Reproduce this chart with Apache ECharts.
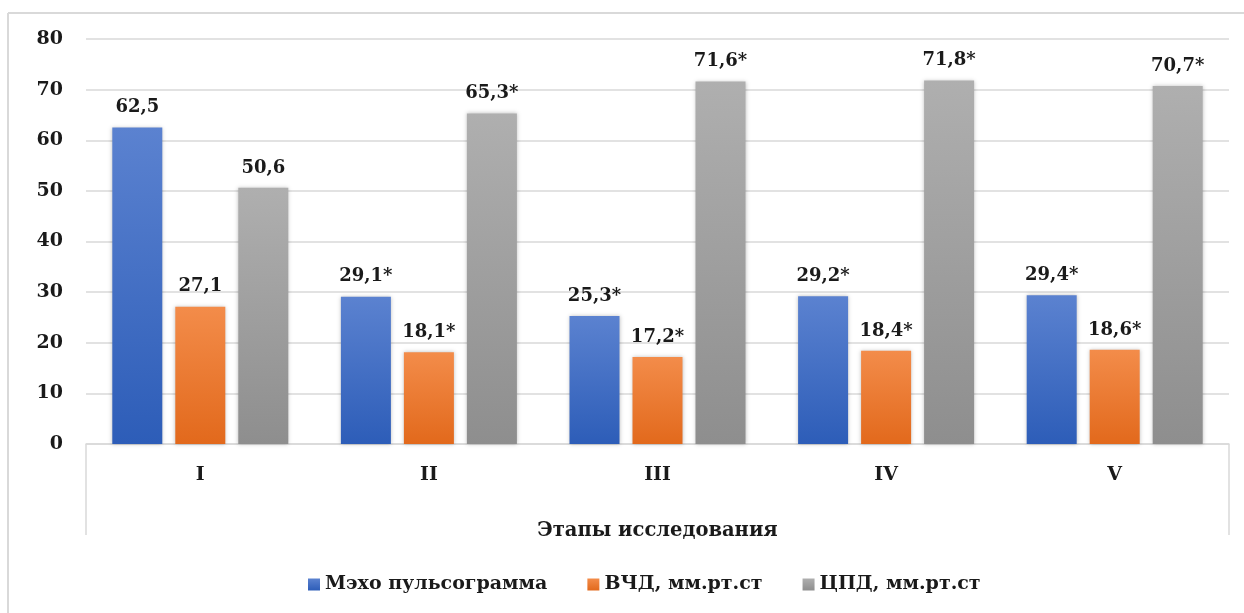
<!DOCTYPE html>
<html><head><meta charset="utf-8">
<script src="https://cdn.jsdelivr.net/npm/echarts@6/dist/echarts.min.js"></script>
<style>html,body{margin:0;padding:0;background:#fff}#c{width:1244px;height:613px}</style>
</head><body><div id="c"></div>
<script>
const categories = ['I','II','III','IV','V'];
const seriesNames = ['Мэхо пульсограмма','ВЧД, мм.рт.ст','ЦПД, мм.рт.ст'];
const mekho = [62.5, 29.1, 25.3, 29.2, 29.4];
const vchd = [27.1, 18.1, 17.2, 18.4, 18.6];
const cpd = [50.6, 65.3, 71.6, 71.8, 70.7];
const mekhoStar = [false, true, true, true, true];
const vchdStar = [false, true, true, true, true];
const cpdStar = [false, true, true, true, true];
const yTicks = [0,10,20,30,40,50,60,70,80];

const FONT = '"DejaVu Serif", "Liberation Serif", serif';
const chart = echarts.init(document.getElementById('c'));
const G = {left:86, right:15, top:39, bottom:169};
function grad(a,b){return new echarts.graphic.LinearGradient(0,0,0,1,[{offset:0,color:a},{offset:1,color:b}]);}
function fmt(stars){return p => p.value.toFixed(1).replace('.',',') + (stars[p.dataIndex]?'*':'');}
function mk(name, data, stars, c1, c2, legendColor){
  return {name, type:'bar', data, barWidth:50, barGap:'26%',
    itemStyle:{color:grad(c1,c2), shadowColor:'rgba(0,0,0,0.25)', shadowBlur:4},
    label:{show:true, position:'top', distance:11, formatter:fmt(stars), fontFamily:FONT, fontWeight:'bold', fontSize:18, color:'#1a1a1a'},
    emphasis:{disabled:true}, color: legendColor};
}
const W=1244,H=613;
const x0=G.left, x1=W-G.right, y0=H-G.bottom;
chart.setOption({
  animation:false,
  grid:G,
  legend:{bottom:14, left:303, itemWidth:12, itemHeight:12, itemGap:40, icon:'rect',
    textStyle:{fontFamily:FONT, fontWeight:'bold', fontSize:19, color:'#1a1a1a'},
    data:seriesNames},
  xAxis:{type:'category', data:categories,
    axisLine:{lineStyle:{color:'#d9d9d9', width:1.5}}, axisTick:{show:false},
    axisLabel:{fontFamily:FONT, fontWeight:'bold', fontSize:19, color:'#1a1a1a', margin:22},
    name:'Этапы исследования', nameLocation:'middle', nameGap:77,
    nameTextStyle:{fontFamily:FONT, fontWeight:'bold', fontSize:19.5, color:'#1a1a1a'}},
  yAxis:{type:'value', min:0, max:80, interval:10,
    axisLine:{show:false}, axisTick:{show:false},
    splitLine:{lineStyle:{color:'#d9d9d9', width:1.5}},
    axisLabel:{fontFamily:FONT, fontWeight:'bold', fontSize:19, color:'#1a1a1a', margin:23,
      formatter:v=>yTicks.includes(v)?String(v):''}},
  series:[
    mk(seriesNames[0], mekho, mekhoStar, '#5b82d0', '#2d5db8', '#4472c4'),
    mk(seriesNames[1], vchd, vchdStar, '#f38c4a', '#e2691c', '#ed7d31'),
    mk(seriesNames[2], cpd, cpdStar, '#afafaf', '#8e8e8e', '#a5a5a5')
  ],
  graphic:[
    {type:'line', shape:{x1:x0,y1:y0,x2:x0,y2:y0+91}, style:{stroke:'#d9d9d9', lineWidth:1.5}},
    {type:'line', shape:{x1:x1,y1:y0,x2:x1,y2:y0+91}, style:{stroke:'#d9d9d9', lineWidth:1.5}},
    {type:'line', shape:{x1:8,y1:13,x2:W,y2:13}, style:{stroke:'#d9d9d9', lineWidth:2}},
    {type:'line', shape:{x1:8,y1:13,x2:8,y2:H}, style:{stroke:'#d9d9d9', lineWidth:2}}
  ]
});
</script></body></html>
